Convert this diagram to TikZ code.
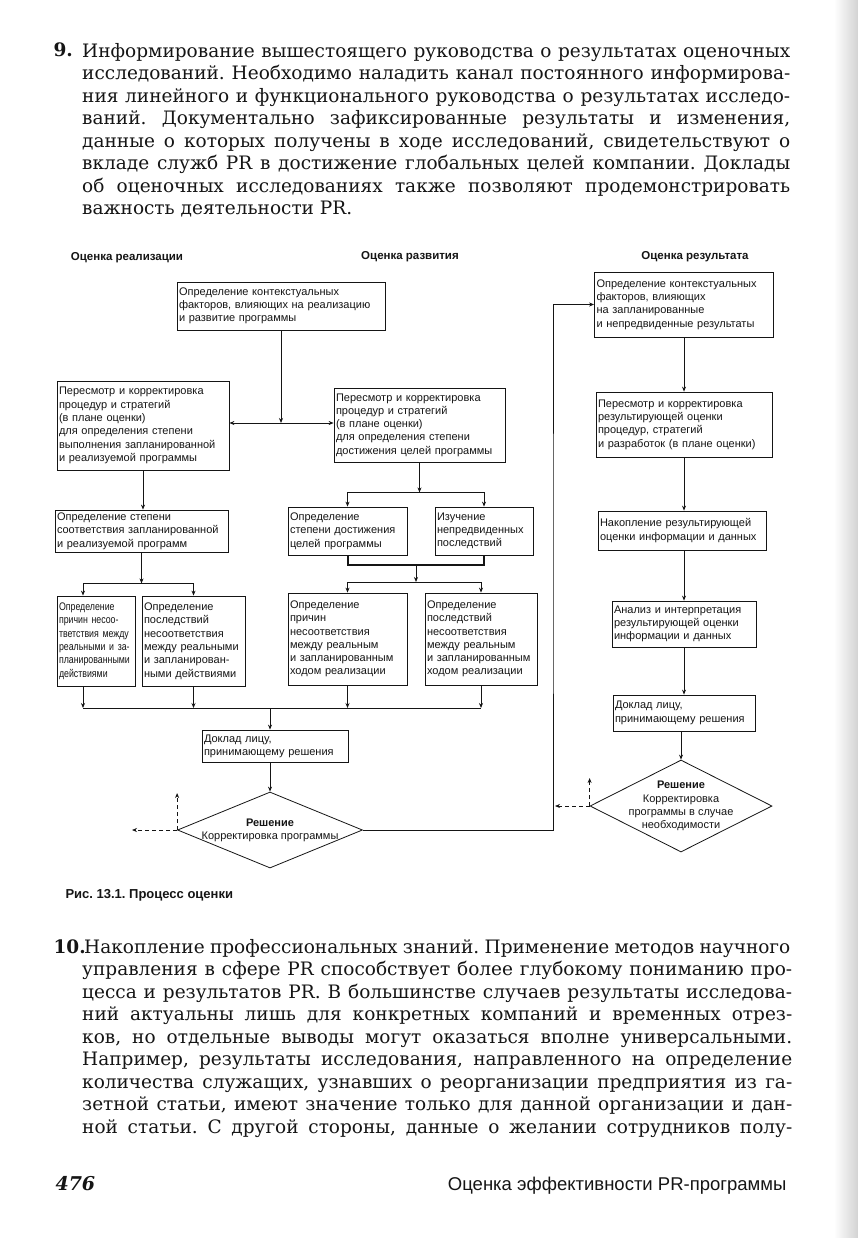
\documentclass[tikz,border=0pt]{standalone}
\usepackage{fontspec}
\setmainfont{DejaVu Serif}
\newfontfamily\diagfont{Liberation Sans}
\newfontfamily\diagcond[FakeStretch=0.8]{Liberation Sans}
\newfontfamily\headfont{Liberation Sans}
\usetikzlibrary{arrows.meta,shapes.geometric,positioning}
\definecolor{ink}{HTML}{151515}
\newcommand{\jline}[1]{\makebox[708pt][s]{\strut#1}}
\newcommand{\lline}[1]{\makebox[708pt][l]{\strut#1}}
\newcommand{\dectext}[1]{\makebox[0pt]{\begin{tabular}{@{}c@{}}#1\end{tabular}}}
\frenchspacing

\begin{document}
\begin{tikzpicture}[x=1pt, y=-1pt, ink,
    box/.style={draw=ink, line width=0.8pt, align=left, inner xsep=2pt, inner ysep=1pt,
      font=\diagfont\fontsize{11}{13.3}\selectfont},
    hdr/.style={font=\diagfont\bfseries\fontsize{11.5}{13}\selectfont},
    decision/.style={diamond, draw=ink, line width=0.8pt, inner sep=0pt,
      font=\diagfont\fontsize{11}{13.3}\selectfont},
    line/.style={draw=ink, line width=0.8pt},
    conn/.style={line, -{Stealth[length=5pt,width=4pt]}},
    dconn/.style={conn, dash pattern=on 4pt off 3pt},
    para/.style={anchor=north west, inner sep=0pt, align=left, font=\fontsize{18.5}{22.5}\selectfont}]
    \useasboundingbox (0,0) rectangle (858,1238);
    \fill[white] (0,0) rectangle (858,1238);
    \shade[left color=white, right color=gray!35] (834,0) rectangle (858,1238);

    % text above the figure
    \node[anchor=base west, font=\bfseries\fontsize{18.5}{22.5}\selectfont] (n9) at (50,57) {9.};
    \node[para] (p9) at (82,41.25) {%
      \jline{Информирование вышестоящего руководства о результатах оценочных}\\
      \jline{исследований. Необходимо наладить канал постоянного информирова-}\\
      \jline{ния линейного и функционального руководства о результатах исследо-}\\
      \jline{ваний. Документально зафиксированные результаты и изменения,}\\
      \jline{данные о которых получены в ходе исследований, свидетельствуют о}\\
      \jline{вкладе служб PR в достижение глобальных целей компании. Доклады}\\
      \jline{об оценочных исследованиях также позволяют продемонстрировать}\\
      \lline{важность деятельности PR.}};

    % column heads
    \node[hdr] (hd1) at (127,258) {Оценка реализации};
    \node[hdr] (hd2) at (410,257) {Оценка развития};
    \node[hdr] (hd3) at (695,257) {Оценка результата};

    % left and middle columns
    \node[box, minimum width=208pt, minimum height=48pt, text width=204pt] (a) at (281,306)
      {Определение контекстуальных\\факторов, влияющих на реализацию\\и развитие программы};
    \node[box, minimum width=172pt, minimum height=89pt, text width=168pt] (b1) at (143,425.5)
      {Пересмотр и корректировка\\процедур и стратегий\\(в плане оценки)\\для определения степени\\выполнения запланированной\\и реализуемой программы};
    \node[box, minimum width=171pt, minimum height=74pt, text width=167pt] (b2) at (419.5,425)
      {Пересмотр и корректировка\\процедур и стратегий\\(в плане оценки)\\для определения степени\\достижения целей программы};
    \node[box, minimum width=173pt, minimum height=42pt, text width=169pt] (c1) at (141.5,531)
      {Определение степени\\соответствия запланированной\\и реализуемой программ};
    \node[box, minimum width=119pt, minimum height=48pt, text width=115pt] (c2) at (347.5,531)
      {Определение\\степени достижения\\целей программы};
    \node[box, minimum width=98pt, minimum height=48pt, text width=94pt] (c3) at (484,531)
      {Изучение\\непредвиденных\\последствий};
    \node[box, minimum width=78pt, minimum height=90pt, text width=74pt, font=\diagcond\fontsize{11}{13.3}\selectfont] (d1) at (96,641)
      {Определение\\причин несоо-\\тветствия между\\реальными и за-\\планированными\\действиями};
    \node[box, minimum width=103pt, minimum height=90pt, text width=99pt] (d2) at (193.5,641)
      {Определение\\последствий\\несоответствия\\между реальными\\и запланирован-\\ными действиями};
    \node[box, minimum width=119pt, minimum height=92pt, text width=115pt] (d3) at (347.5,639)
      {Определение\\причин\\несоответствия\\между реальным\\и запланированным\\ходом реализации};
    \node[box, minimum width=112pt, minimum height=92pt, text width=108pt] (d4) at (481,639)
      {Определение\\последствий\\несоответствия\\между реальным\\и запланированным\\ходом реализации};
    \node[box, minimum width=146pt, minimum height=32pt, text width=142pt] (e) at (275,746)
      {Доклад лицу,\\принимающему решения};
    \node[decision, minimum width=185pt, minimum height=76pt] (dec1) at (270,830)
      {\dectext{\textbf{Решение}\\Корректировка программы}};

    % right column
    \node[box, minimum width=179pt, minimum height=65pt, text width=175pt] (g1) at (684,304.5)
      {Определение контекстуальных\\факторов, влияющих\\на запланированные\\и непредвиденные результаты};
    \node[box, minimum width=176pt, minimum height=65pt, text width=172pt] (g2) at (684,424.5)
      {Пересмотр и корректировка\\результирующей оценки\\процедур, стратегий\\и разработок (в плане оценки)};
    \node[box, minimum width=168pt, minimum height=39pt, text width=164pt] (g3) at (682,530.5)
      {Накопление результирующей\\оценки информации и данных};
    \node[box, minimum width=144pt, minimum height=46pt, text width=140pt] (g4) at (684,624)
      {Анализ и интерпретация\\результирующей оценки\\информации и данных};
    \node[box, minimum width=142pt, minimum height=36pt, text width=138pt] (g5) at (684,713)
      {Доклад лицу,\\принимающему решения};
    \node[decision, minimum width=182pt, minimum height=92pt] (dec2) at (681,806)
      {\dectext{\textbf{Решение}\\Корректировка\\программы в случае\\необходимости}};

    % junctions
    \coordinate (j1) at (281,423);
    \path (c1.south) ++(0,31) coordinate (j2);
    \path (b2.south) ++(0,30) coordinate (j3);
    \coordinate (j4) at (416,565);
    \coordinate (j4b) at (416,582);
    \coordinate (j5) at (270,708);
    \coordinate (d1in) at ([xshift=-13pt]d1.north);
    \coordinate (d1out) at ([xshift=-13pt]d1.south);
    \coordinate (loop) at (553,560);
    \coordinate (out1) at (132,830);
    \coordinate (up1) at ([yshift=37pt]dec1.west);
    \coordinate (out2) at (555,806);
    \coordinate (up2) at ([yshift=28pt]dec2.west);

    \draw[conn] (a) -- (j1);
    \draw[conn] (j1) -- (j1 -| b1.east);
    \draw[conn] (j1) -- (j1 -| b2.west);
    \draw[conn] (b1) -- (b1 |- c1.north);
    \draw[conn] (c1) -- (j2);
    \draw[line] (d1in |- j2) -- (d2.north |- j2);
    \draw[conn] (d1in |- j2) -- (d1in);
    \draw[conn] (d2.north |- j2) -- (d2);
    \draw[conn] (b2) -- (j3);
    \draw[line] (c2.north |- j3) -- (c3.north |- j3);
    \draw[conn] (c2.north |- j3) -- (c2);
    \draw[conn] (c3.north |- j3) -- (c3);
    \draw[line, line width=2pt] (c2.south) -- (c2.south |- j4) -- (c3.south |- j4) -- (c3.south);
    \draw[conn] (j4) -- (j4b);
    \draw[line] (d3.north |- j4b) -- (d4.north |- j4b);
    \draw[conn] (d3.north |- j4b) -- (d3);
    \draw[conn] (d4.north |- j4b) -- (d4);
    \draw[line] (d1out |- j5) -- (d4.south |- j5);
    \draw[conn] (d1out) -- (d1out |- j5);
    \draw[conn] (d2) -- (d2 |- j5);
    \draw[conn] (d3) -- (d3 |- j5);
    \draw[conn] (d4) -- (d4 |- j5);
    \draw[conn] (j5) -- (j5 |- e.north);
    \draw[conn] (e.south -| dec1.north) -- (dec1.north);
    \draw[dconn] (dec1.west) -- (out1);
    \draw[dconn] (dec1.west) -- (up1);
    \draw[conn] (dec1.east) -| (loop) |- (g1.west);
    \draw[conn] (g1) -- (g2);
    \draw[conn] (g2) -- (g3.north -| g2);
    \draw[conn] (g3.south -| g4) -- (g4);
    \draw[conn] (g4) -- (g5);
    \draw[conn] (g5.south -| dec2.north) -- (dec2.north);
    \draw[dconn] (dec2.west) -- (out2);
    \draw[dconn] (dec2.west) -- (up2);

    % caption
    \node[anchor=base west, font=\headfont\bfseries\fontsize{13}{15}\selectfont] (cap) at (62,898)
      {Рис. 13.1. Процесс оценки};

    % text below the figure
    \node[anchor=base west, font=\bfseries\fontsize{18.5}{22.5}\selectfont] (n10) at (50,953) {10.};
    \node[para] (p10) at (84,937.25) {%
      \makebox[706pt][s]{\strut Накопление профессиональных знаний. Применение методов научного}\\
      \jline{\hspace{-2pt}управления в сфере PR способствует более глубокому пониманию про-}\\
      \jline{\hspace{-2pt}цесса и результатов PR. В большинстве случаев результаты исследова-}\\
      \jline{\hspace{-2pt}ний актуальны лишь для конкретных компаний и временных отрез-}\\
      \jline{\hspace{-2pt}ков, но отдельные выводы могут оказаться вполне универсальными.}\\
      \jline{\hspace{-2pt}Например, результаты исследования, направленного на определение}\\
      \jline{\hspace{-2pt}количества служащих, узнавших о реорганизации предприятия из га-}\\
      \jline{\hspace{-2pt}зетной статьи, имеют значение только для данной организации и дан-}\\
      \jline{\hspace{-2pt}ной статьи. С другой стороны, данные о желании сотрудников полу-}};

    % running foot
    \node[anchor=base west, font=\bfseries\itshape\fontsize{19}{24}\selectfont] (pgno) at (52,1190) {476};
    \node[anchor=base east, font=\headfont\fontsize{18.5}{22}\selectfont] (runhead) at (790,1190)
      {Оценка эффективности PR-программы};
\end{tikzpicture}
\end{document}
